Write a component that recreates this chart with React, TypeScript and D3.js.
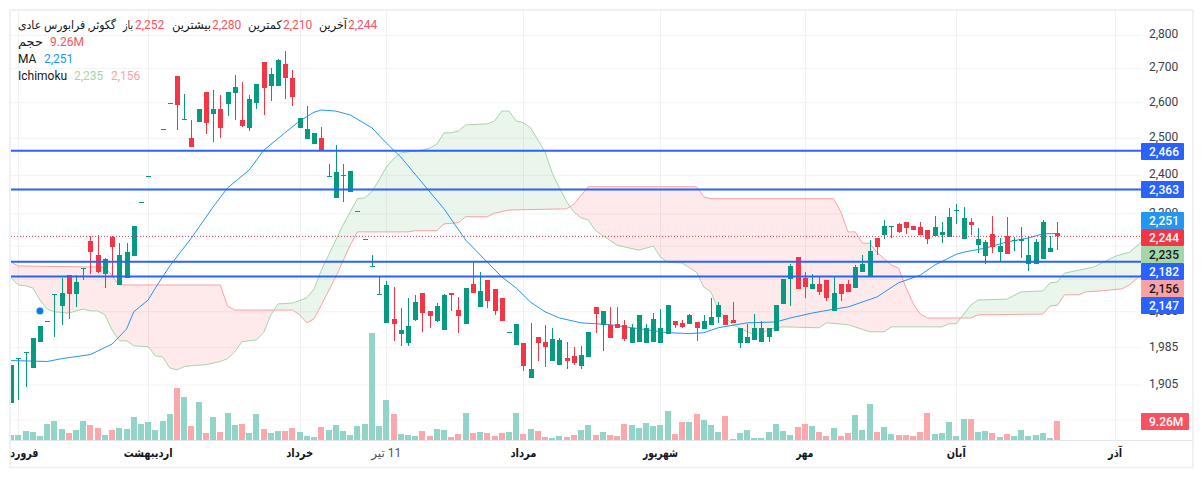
import React from "react";
import * as d3 from "d3";

const WIDTH = 1203, HEIGHT = 478;

const openPrices = [
1867,1961,1974,1941,1998,2044,2104,2078,2150,2106,
2165,2232,2198,2153,2242,2127,2144,2195,2329,2397,
2467,2525,2598,2678,2553,2500,2545,2630,2568,2582,
2596,2628,2551,2529,2599,2719,2648,2648,2713,2672,
2529,2498,2484,2500,2397,2341,2400,2357,2306,2236,
2171,2105,2040,2049,2015,1996,2047,2108,2067,2045,
2024,2108,2069,2038,2129,2076,2139,2118,2097,2019,
1991,1996,1920,2009,1998,1957,1948,1963,1967,1946,
1965,2076,2036,2036,2038,2036,1996,1998,1996,1998,
1996,2016,2045,2040,2038,2042,2027,2036,2053,2058,
2047,1996,1996,2002,1998,2009,2022,2083,2141,2193,
2144,2118,2129,2139,2067,2129,2129,2120,2157,2148,
2240,2248,2269,2275,2280,2270,2267,2260,2245,2248,
2242,2309,2237,2280,2222,2195,2250,2205,2245,2234,
2232,2177,2177,2188,2205,2252];
const highPrices = [
1948,1963,1976,2006,2033,2045,2106,2144,2150,2150,
2167,2245,2248,2191,2245,2227,2227,2270,2331,2398,
2468,2526,2599,2678,2625,2551,2582,2630,2636,2622,
2630,2680,2660,2622,2654,2719,2701,2728,2752,2695,
2557,2590,2515,2531,2430,2481,2430,2411,2307,2237,
2198,2146,2137,2122,2073,2097,2104,2108,2067,2085,
2106,2108,2099,2120,2181,2157,2139,2118,2097,2020,
2038,1996,2040,2009,2036,2029,2006,1998,1987,1989,
2020,2076,2067,2076,2076,2047,2038,2058,2038,2062,
2071,2080,2045,2047,2060,2042,2058,2097,2087,2058,
2087,2029,2038,2060,2045,2029,2080,2141,2177,2193,
2157,2153,2146,2139,2146,2129,2139,2174,2198,2235,
2240,2285,2270,2278,2280,2270,2280,2260,2295,2280,
2315,2325,2318,2290,2265,2235,2295,2240,2293,2242,
2267,2245,2237,2285,2245,2280];
const lowPrices = [
1867,1873,1900,1941,1998,2044,2009,2036,2049,2076,
2139,2153,2155,2120,2148,2127,2144,2195,2329,2397,
2467,2525,2598,2523,2553,2476,2545,2512,2490,2500,
2562,2551,2531,2520,2582,2565,2605,2648,2611,2590,
2529,2498,2484,2465,2397,2341,2331,2357,2306,2236,
2171,2105,2040,2000,1988,1988,2045,2020,2029,2042,
2024,2067,2018,2038,2108,2076,2073,2058,2045,2019,
1991,1935,1920,1957,1944,1957,1948,1939,1948,1939,
1965,2018,1978,2006,2029,2000,1996,1998,1996,1998,
1996,2016,2029,2029,2038,2000,2027,2036,2040,2036,
2040,1985,1996,2002,1998,1998,2022,2083,2078,2118,
2097,2118,2104,2090,2067,2090,2111,2120,2157,2148,
2198,2237,2240,2253,2250,2260,2248,2225,2245,2227,
2242,2275,2237,2248,2203,2177,2203,2181,2200,2208,
2191,2160,2177,2188,2205,2210];
const closePrices = [
1948,1963,1976,2006,2033,2045,2106,2108,2106,2134,
2167,2205,2157,2188,2217,2198,2205,2270,2331,2398,
2468,2526,2599,2593,2554,2476,2582,2543,2582,2529,
2630,2645,2534,2611,2654,2642,2683,2725,2672,2616,
2557,2526,2515,2465,2398,2409,2401,2411,2307,2237,
2172,2106,2127,2038,2024,2033,2087,2062,2056,2078,
2104,2104,2056,2120,2108,2113,2090,2067,2045,2020,
2038,1946,1939,1996,1987,2004,2002,1957,1952,1970,
2020,2060,2067,2006,2029,2004,2029,2058,2029,2049,
2029,2080,2036,2031,2058,2029,2045,2053,2080,2036,
2040,2029,2009,2029,2029,2029,2080,2141,2172,2118,
2122,2129,2111,2097,2108,2106,2111,2169,2177,2208,
2217,2270,2270,2255,2265,2260,2248,2237,2267,2255,
2293,2310,2290,2272,2237,2230,2217,2220,2200,2235,
2237,2198,2230,2280,2215,2244];
const volumesM = [
2.4,2.4,4.4,3.9,2,7.8,9.3,5.4,3.4,4.9,
9.3,7.3,5.9,2.4,4.9,5.9,5.4,11.2,7.8,8.8,
4.9,9.3,12.7,25.4,21,6.8,18.5,3.4,11.2,3.9,
13.2,7.3,7.8,3.4,12.7,5.4,3.4,4.4,4.4,5.9,
3.9,2,1.5,6.3,4.9,7.3,4.4,2.4,6.8,7.8,
52.2,6.8,19.5,12.7,2.9,2.4,2,4.4,2,5.4,
4.9,1.5,2.9,13.2,3.4,3.9,3.4,2,3.4,3.9,
13.2,2.9,5.4,4.4,1.5,1,2,1.5,2.4,4.9,
7.3,2.4,3.9,2.4,2,7.8,7.3,5.9,8.3,6.8,
7.3,14.1,2.9,8.8,8.8,12.7,9.8,7.3,3.9,11.7,
0.5,3.4,4.9,1,1,3.9,7.8,4.4,2.4,6.3,
7.8,6.8,3.9,2,5.9,2,3.4,12.2,4.9,17.6,
3.9,6.3,2.9,2.4,2.4,2,3.9,13.2,2.9,3.4,
8.8,2,10.2,10.2,3.9,4.4,3.4,1.5,2.9,2,
4.9,2,2.4,3.4,1,9.26];

const maIndex = [0,5,7,11,14,16,17,19,20,21,22,25,28,30,33,35,38,40,42,43,45,47,50,52,54,60,63,66,68,70,72,74,76,79,83,87,91,94,96,98,102,106,108,111,114,116,120,123,126,128,131,132,135,138,141,143,145];
const maValues = [1957,1955,1961,1970,1993,2026,2065,2092,2120,2146,2172,2240,2318,2367,2414,2467,2516,2548,2573,2579,2576,2565,2529,2487,2449,2313,2235,2181,2146,2120,2087,2065,2051,2040,2036,2027,2018,2016,2018,2029,2040,2042,2051,2062,2071,2076,2099,2132,2150,2174,2200,2205,2215,2230,2240,2250,2251];

const spanAIndex = [0,1,2,3,4,5,6,8,9,10,11,12,13,14,15,16,17,19,20,21,22,23,24,25,27,29,30,31,32,34,35,36,37,39,41,42,43,44,45,46,47,48,49,50,51,52,53,54,57,58,59,60,61,62,63,66,67,68,69,70,71,72,74,75,76,77,78,79,80,81,84,87,89,90,91,93,95,96,97,98,100,103,106,107,112,113,116,119,121,122,126,129,130,131,133,134,138,140,143,144,145,146,148,150,153,155,157];
const spanAValues = [2144,2127,2125,2120,2092,2071,2065,2062,2067,2071,2067,2067,2058,2024,2000,2000,1989,1987,1967,1965,1941,1937,1944,1946,1948,1955,1961,1976,1998,2002,2018,2058,2083,2085,2097,2118,2162,2198,2235,2272,2305,2339,2341,2357,2388,2422,2444,2460,2468,2473,2484,2515,2515,2520,2537,2540,2548,2576,2576,2548,2543,2529,2463,2406,2367,2331,2305,2290,2285,2258,2222,2210,2220,2193,2181,2179,2157,2122,2111,2069,2036,2013,2029,2031,2029,2040,2036,2020,2020,2031,2031,2031,2038,2038,2080,2092,2094,2111,2113,2132,2134,2155,2162,2169,2195,2205,2235];
const spanBIndex = [0,1,13,15,29,30,31,39,40,41,42,45,47,48,55,56,59,60,62,63,66,67,69,77,78,80,95,96,97,114,115,116,117,118,119,120,122,123,124,125,126,127,133,134,143,144,145,146,148,149,151,154,155,157];
const spanBValues = [2181,2172,2169,2127,2127,2078,2069,2069,2058,2040,2049,2146,2222,2255,2255,2258,2258,2275,2278,2293,2293,2302,2310,2313,2325,2370,2370,2344,2339,2339,2305,2255,2255,2227,2227,2205,2174,2167,2122,2085,2060,2051,2051,2058,2060,2078,2080,2104,2104,2111,2113,2118,2127,2156];

const gridPrices = [2800,2700,2600,2500,2400,2300,2220,2140,2065,1985,1905,1833];
const labelPrices = [2800,2700,2600,2500,2400,2300,2065,1985,1905];
const levelPrices = [2466,2363,2182,2147];
const lastPrice = 2244;

const monthIndex = [1,19,40,71,90,110,131,153];
const monthNames = ["فروردین","اردیبهشت","خرداد","مرداد","شهریور","مهر","آبان","آذر"];
const dayIndex = 52;
const dayName = "11 تیر";
const gridIndex = [1,19,40,52,71,90,110,131,153];

const markerIndex = 4;
const markerPrice = 2067;

const legendTexts = ["گکوثر, فرابورس عادی","باز","2,252","بیشترین","2,280","کمترین","2,210","آخرین","2,244","حجم","9.26M","MA","2,251","Ichimoku","2,235","2,156"];
const tagTexts = ["2,466","2,363","2,251","2,244","2,235","2,182","2,156","2,147"];
const volumeTagText = "9.26M";

// layout of the texts above, in the same order
const monthWidths = [40,49,27,26,35,17,19,14];
const legendLayout = [
  { x: 18, row: 0, c: "#131722", w: 98 },
  { x: 123, row: 0, c: "#131722", w: 10 },
  { x: 135, row: 0, c: "#f7525f" },
  { x: 172, row: 0, c: "#131722", w: 39 },
  { x: 212, row: 0, c: "#f7525f" },
  { x: 248, row: 0, c: "#131722", w: 34 },
  { x: 283, row: 0, c: "#f7525f" },
  { x: 319, row: 0, c: "#131722", w: 28 },
  { x: 348, row: 0, c: "#f7525f" },
  { x: 18, row: 1, c: "#131722", w: 25 },
  { x: 50, row: 1, c: "#f7525f" },
  { x: 18, row: 2, c: "#131722" },
  { x: 44, row: 2, c: "#2196f3" },
  { x: 18, row: 3, c: "#131722" },
  { x: 74, row: 3, c: "#a5d6a7" },
  { x: 111, row: 3, c: "#faa1a4" },
] as { x: number; row: number; c: string; w?: number }[];
const tagLayout = [
  { top: 143, bg: "#2962ff", fg: "#fff" },
  { top: 181, bg: "#2962ff", fg: "#fff" },
  { top: 212, bg: "#2196f3", fg: "#fff" },
  { top: 229, bg: "#f23645", fg: "#fff" },
  { top: 246, bg: "#a5d6a7", fg: "#131722" },
  { top: 263, bg: "#2962ff", fg: "#fff" },
  { top: 280, bg: "#faa1a4", fg: "#131722" },
  { top: 297, bg: "#2962ff", fg: "#fff" },
];

const GREEN = "#089981", RED = "#f23645";
const FONT = "Roboto, 'DejaVu Sans', sans-serif";
const PLOT = { left: 11, right: 1141, top: 11, bottom: 440 };

export default function App() {
  const x = d3.scaleLinear().domain([0, 145]).range([11.1, 1057.3]);
  const y = d3.scaleLog().domain([2466, 1905]).range([150.7, 385]);
  const volH = d3.scaleLinear().domain([0, 52.2]).range([0, 107]);

  const lineFrom = (idx: number[], val: number[]) =>
    d3.line<number>().x((d) => x(idx[d])).y((d) => y(val[d]))(d3.range(idx.length)) as string;
  const maPath = lineFrom(maIndex, maValues);
  const aPath = lineFrom(spanAIndex, spanAValues);
  const bPath = lineFrom(spanBIndex, spanBValues);
  const areaFrom = (idx: number[], val: number[], base: number) =>
    d3.area<number>().x((d) => x(idx[d])).y0(base).y1((d) => y(val[d]))(d3.range(idx.length)) as string;

  return (
    <svg
      width={WIDTH}
      height={HEIGHT}
      style={{ position: "absolute", left: 0, top: 0, background: "#fff", fontFamily: FONT }}
    >
      <defs>
        <clipPath id="plot"><rect x={PLOT.left} y={PLOT.top} width={PLOT.right - PLOT.left} height={PLOT.bottom - PLOT.top} /></clipPath>
        <clipPath id="axisClip"><rect x={10} y={441} width={1183} height={26} /></clipPath>
        <clipPath id="belowA"><path d={areaFrom(spanAIndex, spanAValues, 600)} /></clipPath>
        <clipPath id="aboveA"><path d={areaFrom(spanAIndex, spanAValues, -100)} /></clipPath>
      </defs>

      <rect x={10} y={10} width={1183} height={457.5} fill="none" stroke="#f0f1f5" strokeWidth={2} />

      {gridPrices.map((p) => (
        <line key={p} x1={PLOT.left} x2={PLOT.right} y1={y(p)} y2={y(p)} stroke="#f2f3f5" strokeWidth={1} />
      ))}
      {gridIndex.map((i) => (
        <line key={i} x1={Math.round(x(i)) + 0.5} x2={Math.round(x(i)) + 0.5} y1={PLOT.top} y2={PLOT.bottom} stroke="#f0f1f3" strokeWidth={1} />
      ))}

      <g clipPath="url(#plot)">
        <g clipPath="url(#aboveA)">
          <path d={areaFrom(spanBIndex, spanBValues, 600)} fill="#f23645" fillOpacity={0.11} />
        </g>
        <g clipPath="url(#belowA)">
          <path d={areaFrom(spanBIndex, spanBValues, -100)} fill="#43a047" fillOpacity={0.11} />
        </g>

        {volumesM.map((v, i) => (
          <rect
            key={i}
            x={Math.round(x(i)) - 3}
            width={6}
            y={PLOT.bottom - volH(v)}
            height={volH(v)}
            fill={closePrices[i] >= openPrices[i] ? "#93d4c8" : "#faa8ab"}
            shapeRendering="crispEdges"
          />
        ))}

        <path d={aPath} fill="none" stroke="#a5d6a7" strokeWidth={1} />
        <path d={bPath} fill="none" stroke="#faa1a4" strokeWidth={1} />
        <path d={maPath} fill="none" stroke="#2196f3" strokeWidth={1} />

        {openPrices.map((o, i) => {
          const c = closePrices[i];
          const color = c >= o ? GREEN : RED;
          const cx = Math.round(x(i));
          const top = y(Math.max(o, c));
          const bot = y(Math.min(o, c));
          return (
            <g key={i} fill={color} shapeRendering="crispEdges">
              <rect x={cx} width={1} y={y(highPrices[i])} height={Math.max(1, y(lowPrices[i]) - y(highPrices[i]))} />
              <rect x={cx - 2} width={5} y={top} height={Math.max(1, bot - top)} />
            </g>
          );
        })}

        <line x1={PLOT.left} x2={PLOT.right} y1={y(lastPrice)} y2={y(lastPrice)} stroke={RED} strokeWidth={1} strokeDasharray="1 2" />
        {levelPrices.map((p) => (
          <line key={p} x1={PLOT.left} x2={PLOT.right} y1={y(p)} y2={y(p)} stroke="#2962ff" strokeWidth={2} />
        ))}

        <circle cx={x(markerIndex)} cy={y(markerPrice)} r={3.2} fill="#0a7ce0" stroke="#0a7ce0" strokeOpacity={0.35} strokeWidth={1.5} />
      </g>

      <line x1={10} x2={1193} y1={440.5} y2={440.5} stroke="#e4e6ee" strokeWidth={1.2} />

      {labelPrices.map((p) => (
        <text key={p} x={1149} y={y(p) + 3} fontSize={12} fill="#3a3e4a">{d3.format(",")(p)}</text>
      ))}

      {tagTexts.map((t, k) => (
        <g key={k}>
          <rect x={1141} y={tagLayout[k].top} width={43} height={17} rx={1} fill={tagLayout[k].bg} />
          <text x={1149} y={tagLayout[k].top + 13} fontSize={12} fontWeight={500} fill={tagLayout[k].fg}>{t}</text>
        </g>
      ))}
      <rect x={1141} y={413} width={48} height={17} rx={1} fill="#f7525f" />
      <text x={1149} y={426} fontSize={12} fontWeight={500} fill="#fff">{volumeTagText}</text>

      <g clipPath="url(#axisClip)">
        {monthIndex.map((m, k) => (
          <text key={m} x={x(m)} y={457} fontSize={12} fontWeight={700} textAnchor="middle" fill="#131722"
            textLength={monthWidths[k]} lengthAdjust="spacingAndGlyphs">{monthNames[k]}</text>
        ))}
        <text x={x(dayIndex)} y={457} fontSize={12} textAnchor="middle" fill="#50535e" style={{ direction: "rtl" }}>{dayName}</text>
      </g>

      {legendTexts.map((t, k) => {
        const l = legendLayout[k];
        return (
          <text key={k} x={l.x} y={28.5 + l.row * 17} fontSize={12} fill={l.c}
            {...(l.w ? { textLength: l.w, lengthAdjust: "spacingAndGlyphs" } : {})}>{t}</text>
        );
      })}
    </svg>
  );
}
